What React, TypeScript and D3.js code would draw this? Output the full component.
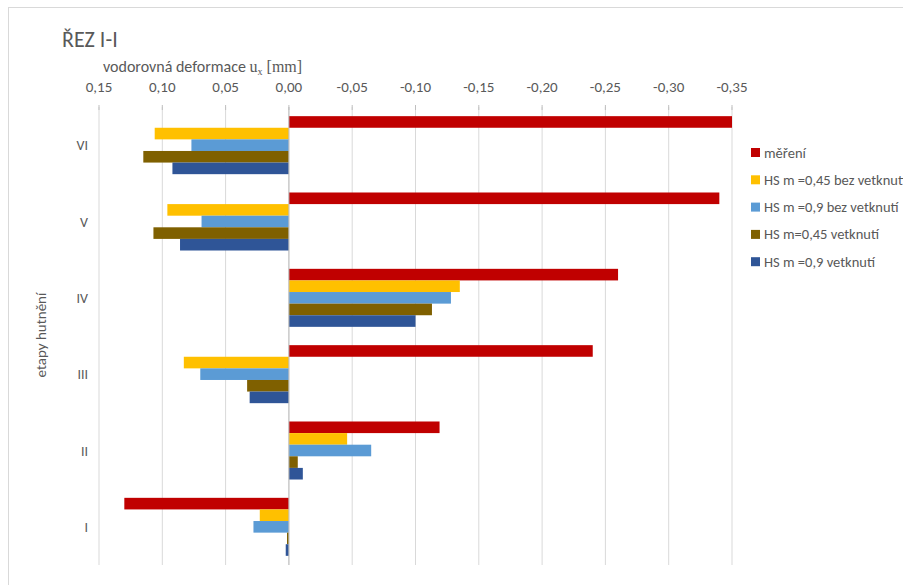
import React from "react";
import * as d3 from "d3";

const categories = ["VI", "V", "IV", "III", "II", "I"];
const seriesNames = [
  "měření",
  "HS m =0,45 bez vetknutí",
  "HS m =0,9 bez vetknutí",
  "HS m=0,45 vetknutí",
  "HS m =0,9 vetknutí",
];
const seriesColors = ["#C00000", "#FFC000", "#5B9BD5", "#7F6000", "#2F5597"];
// values per category (VI..I) for each series
const mereni = [-0.35, -0.34, -0.26, -0.24, -0.119, 0.13];
const hs045bez = [0.106, 0.096, -0.135, 0.083, -0.046, 0.023];
const hs09bez = [0.077, 0.069, -0.128, 0.07, -0.065, 0.028];
const hs045vet = [0.115, 0.107, -0.113, 0.033, -0.007, 0.0015];
const hs09vet = [0.092, 0.086, -0.1, 0.031, -0.011, 0.0025];
const seriesValues = [mereni, hs045bez, hs09bez, hs045vet, hs09vet];
const xTicks = [0.15, 0.1, 0.05, 0, -0.05, -0.1, -0.15, -0.2, -0.25, -0.3, -0.35];

const W = 903;
const H = 585;
const plot = { left: 99, right: 732, top: 107, bottom: 565 };
const font = "Carlito, Calibri, Lato, 'Open Sans', sans-serif";
const serif = "'Liberation Serif', 'DejaVu Serif', serif";
const textColor = "#595959";

export default function App() {
  const x = d3.scaleLinear().domain([0.15, -0.35]).range([plot.left, plot.right]);
  const y = d3.scaleBand().domain(categories).range([plot.top, plot.bottom]).paddingInner(0.24).paddingOuter(0.12);
  const inner = d3.scaleBand().domain(seriesNames).range([0, y.bandwidth()]);
  const fmt = (v: number) => v.toFixed(2).replace(".", ",").replace(/^-0,00$/, "0,00");

  return (
    <svg width={W} height={H} style={{ position: "absolute", left: 0, top: 0, background: "#fff" }} fontFamily={font}>
      <rect x={8.5} y={7.5} width={W} height={H} fill="none" stroke="#d9d9d9" />
      <text x={62} y={47} fontSize={22} fill={textColor}>ŘEZ I-I</text>
      <text x={103} y={72} fontSize={16} fill={textColor}>
        vodorovná deformace{" "}
        <tspan fontFamily={serif}>u</tspan>
        <tspan fontFamily={serif} fontSize={10} dy={3}>x</tspan>
        <tspan fontFamily={serif} dy={-3}> [mm]</tspan>
      </text>
      {xTicks.map((t) => (
        <g key={t}>
          <line x1={x(t)} x2={x(t)} y1={plot.top} y2={plot.bottom} stroke="#d9d9d9" strokeWidth={1} />
          <line x1={x(t)} x2={x(t)} y1={plot.top - 2} y2={plot.top + 3} stroke="#bfbfbf" strokeWidth={1} />
          <text x={x(t)} y={92} fontSize={15} fill={textColor} textAnchor="middle">{fmt(t)}</text>
        </g>
      ))}
      {categories.map((c, ci) => (
        <g key={c}>
          {seriesValues.map((vals, si) => {
            const v = vals[ci];
            const x0 = x(0);
            const x1 = x(v);
            return (
              <rect
                key={si}
                x={Math.min(x0, x1)}
                width={Math.max(Math.abs(x1 - x0), 0.5)}
                y={(y(c) as number) + (inner(seriesNames[si]) as number)}
                height={inner.bandwidth()}
                fill={seriesColors[si]}
              />
            );
          })}
          <text x={88} y={(y(c) as number) + y.bandwidth() / 2 + 5} fontSize={14} fill={textColor} textAnchor="end">{c}</text>
        </g>
      ))}
      <line x1={x(0)} x2={x(0)} y1={plot.top} y2={plot.bottom} stroke="#bfbfbf" strokeWidth={1} />
      <text transform={`translate(46,335) rotate(-90)`} fontSize={15} fill={textColor} textAnchor="middle">etapy hutnění</text>
      {seriesNames.map((s, i) => (
        <g key={s} transform={`translate(751,${153 + i * 27.3})`}>
          <rect x={0} y={-5} width={9} height={9} fill={seriesColors[i]} />
          <text x={13} y={4.5} fontSize={14.5} fill={textColor}>{s}</text>
        </g>
      ))}
    </svg>
  );
}
